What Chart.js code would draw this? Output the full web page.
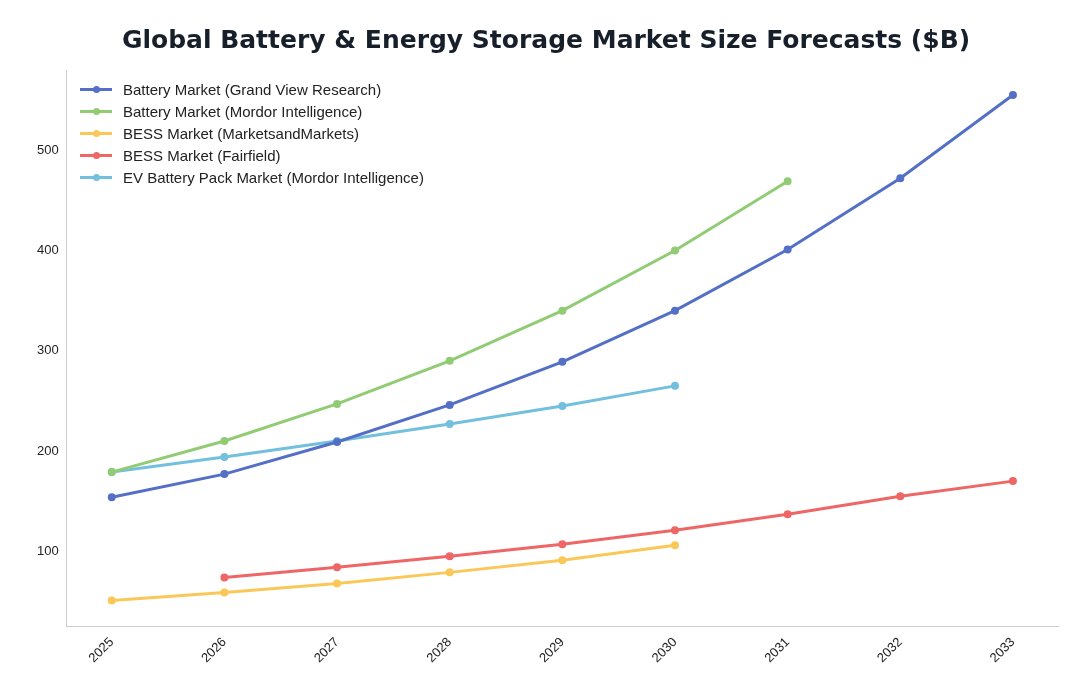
<!DOCTYPE html>
<html><head><meta charset="utf-8">
<script src="https://cdn.jsdelivr.net/npm/chart.js@4"></script>
<style>
body{margin:0;background:#fff;font-family:"DejaVu Sans",sans-serif}
#wrap{position:relative;width:1088px;height:697px}
#legend{position:absolute;left:80px;top:78px;font-size:15px;color:#222;font-family:"Liberation Sans",Arial,sans-serif}
.it{display:flex;align-items:center;height:22px}
.sw{position:relative;width:32px;height:3px;margin-right:11px}
.sw i{position:absolute;left:13px;top:-2px;width:7px;height:7px;border-radius:50%}
</style></head><body>
<div id="wrap"><canvas id="c" width="1088" height="697"></canvas><div id="legend"></div></div>
<script>
const years=[2025,2026,2027,2028,2029,2030,2031,2032,2033];
const gvr=[154,177,209,246,289,340,401,472,555];
const mordor=[179,210,247,290,340,400,469];
const bessMM=[51,59,68,79,91,106];
const fairYears=[2026,2027,2028,2029,2030,2031,2032,2033];
const fair=[74,84,95,107,121,137,155,170];
const ev=[179,194,210,227,245,265];
const names=["Battery Market (Grand View Research)","Battery Market (Mordor Intelligence)","BESS Market (MarketsandMarkets)","BESS Market (Fairfield)","EV Battery Pack Market (Mordor Intelligence)"];
const colors=["#5470c6","#91cc75","#fac858","#ee6666","#73c0de"];
const series=[[years,gvr],[years,mordor],[years,bessMM],[fairYears,fair],[years,ev]];
const datasets=series.map((s,i)=>({label:names[i],data:s[1].map((v,j)=>({x:s[0][j],y:v})),borderColor:colors[i],backgroundColor:colors[i],borderWidth:3,pointRadius:2.5,pointHoverRadius:2.5,tension:0}));
const lg=document.getElementById('legend');
names.forEach((n,i)=>{lg.innerHTML+=`<div class="it"><span class="sw" style="background:${colors[i]}"><i style="background:${colors[i]}"></i></span>${n}</div>`});
new Chart(document.getElementById('c'),{type:'line',data:{datasets},options:{
responsive:false,animation:false,
layout:{padding:{left:34,right:30,top:0,bottom:28}},
plugins:{legend:{display:false},tooltip:{enabled:false},title:{display:true,text:'Global Battery & Energy Storage Market Size Forecasts ($B)',color:'#17202a',font:{size:25,weight:'bold',family:'DejaVu Sans'},padding:{top:26,bottom:14}}},
scales:{x:{type:'linear',min:2024.6,max:2033.4,afterBuildTicks:a=>{a.ticks=years.map(v=>({value:v}))},grid:{display:false,drawTicks:true,tickLength:5},border:{color:'#ccc'},ticks:{color:'#222',font:{size:13},maxRotation:45,minRotation:45,callback:v=>String(v)}},
y:{min:25,max:580,afterBuildTicks:a=>{a.ticks=[100,200,300,400,500].map(v=>({value:v}))},grid:{display:false,tickLength:5},border:{color:'#ccc'},ticks:{color:'#222',font:{size:13}}}}
}});
</script></body></html>
